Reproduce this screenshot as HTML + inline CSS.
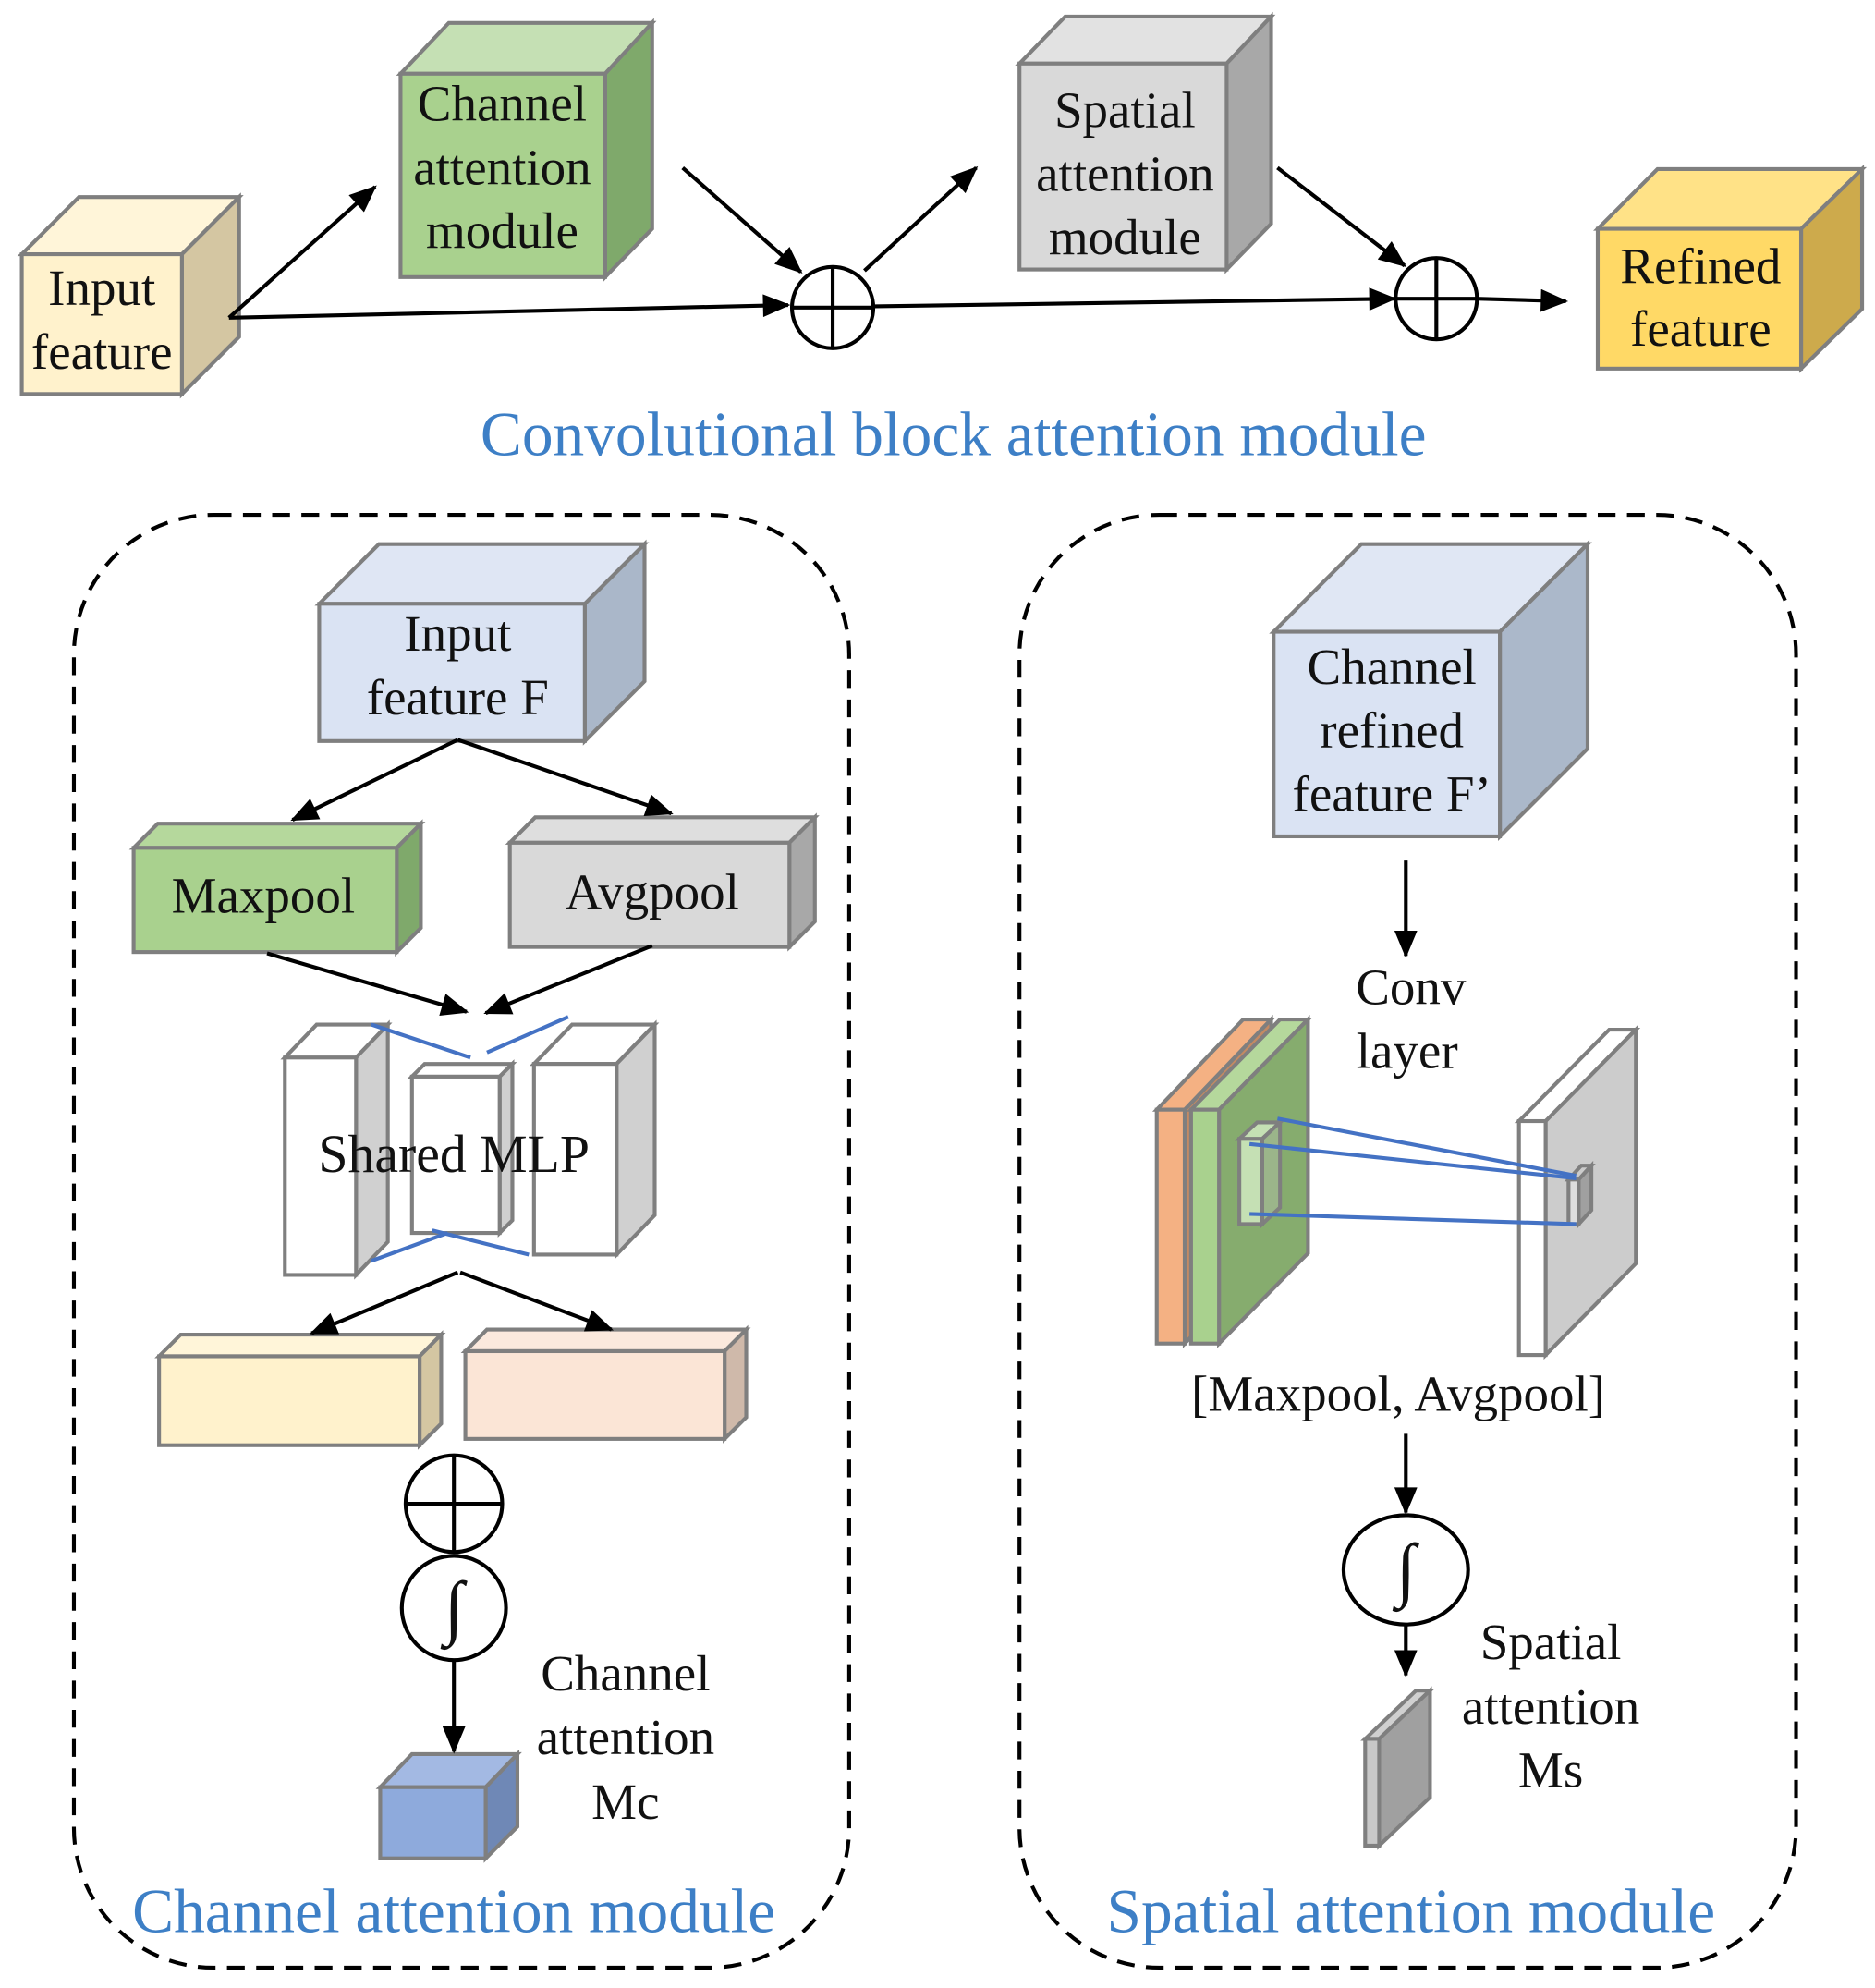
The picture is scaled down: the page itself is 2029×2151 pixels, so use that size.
<!DOCTYPE html>
<html><head><meta charset="utf-8"><style>
html,body{margin:0;padding:0;background:#fff;}
svg{display:block;}
text{font-family:"Liberation Serif",serif;fill:#111;}
.b{fill:#3d7fc6;}
</style></head><body>
<svg width="2029" height="2151" viewBox="0 0 1475 1564" xmlns="http://www.w3.org/2000/svg">
<defs>
<marker id="a" viewBox="0 0 12 10" refX="11" refY="5" markerWidth="22" markerHeight="18" orient="auto" markerUnits="userSpaceOnUse"><path d="M0,0 L12,5 L0,10 z" fill="#000"/></marker>
</defs>
<g stroke="#7f7f7f" stroke-width="3" stroke-linejoin="miter">
<polygon points="17,200 62,155 188,155 143,200" fill="#fff5d9"/>
<polygon points="143,200 188,155 188,265 143,310" fill="#d4c6a2"/>
<rect x="17" y="200" width="126" height="110" fill="#fff2cc"/>
<polygon points="315,58 353,18 513,18 476,58" fill="#c5e0b4"/>
<polygon points="476,58 513,18 513,180 476,218" fill="#7fa96b"/>
<rect x="315" y="58" width="161" height="160" fill="#a9d18e"/>
<polygon points="802,50 838,13 1000,13 965,50" fill="#e2e2e2"/>
<polygon points="965,50 1000,13 1000,176 965,212" fill="#a8a8a8"/>
<rect x="802" y="50" width="163" height="162" fill="#d9d9d9"/>
<polygon points="1257,180 1304,133 1465,133 1417,180" fill="#ffe287"/>
<polygon points="1417,180 1465,133 1465,243 1417,290" fill="#cdaa4c"/>
<rect x="1257" y="180" width="160" height="110" fill="#ffd966"/>
</g>
<g font-size="40" text-anchor="middle">
<text x="80" y="240">Input</text><text x="80" y="290">feature</text>
<text x="395" y="95">Channel</text><text x="395" y="145">attention</text><text x="395" y="195">module</text>
<text x="885" y="100">Spatial</text><text x="885" y="150">attention</text><text x="885" y="200">module</text>
<text x="1338" y="223">Refined</text><text x="1338" y="272">feature</text>
</g>
<g stroke="#000" stroke-width="3" fill="none">
<line x1="180" y1="250" x2="295" y2="147" marker-end="url(#a)"/>
<line x1="180" y1="250" x2="620" y2="240" marker-end="url(#a)"/>
<line x1="537" y1="132" x2="630" y2="214" marker-end="url(#a)"/>
<line x1="680" y1="213" x2="768" y2="132" marker-end="url(#a)"/>
<line x1="688" y1="241" x2="1097" y2="235" marker-end="url(#a)"/>
<line x1="1005" y1="132" x2="1105" y2="209" marker-end="url(#a)"/>
<line x1="1162" y1="235" x2="1232" y2="237" marker-end="url(#a)"/>
<circle cx="655" cy="242" r="32" fill="#fff"/>
<line x1="623" y1="242" x2="687" y2="242"/><line x1="655" y1="210" x2="655" y2="274"/>
<circle cx="1130" cy="235" r="32" fill="#fff"/>
<line x1="1098" y1="235" x2="1162" y2="235"/><line x1="1130" y1="203" x2="1130" y2="267"/>
</g>
<text class="b" x="750" y="358" font-size="49" text-anchor="middle">Convolutional block attention module</text>

<g fill="none" stroke="#000" stroke-width="3" stroke-dasharray="14,9">
<rect x="58" y="405" width="610" height="1143" rx="110" ry="110"/>
<rect x="802" y="405" width="611" height="1143" rx="110" ry="110"/>
</g>

<g stroke="#7f7f7f" stroke-width="3">
<polygon points="251,475 298,428 507,428 460,475" fill="#dfe6f4"/>
<polygon points="460,475 507,428 507,536 460,583" fill="#aab7c9"/>
<rect x="251" y="475" width="209" height="108" fill="#dae3f3"/>
<polygon points="105,667 124,648 331,648 312,667" fill="#b5d89c"/>
<polygon points="312,667 331,648 331,730 312,749" fill="#7fa96b"/>
<rect x="105" y="667" width="207" height="82" fill="#a9d18e"/>
<polygon points="401,663 421,643 641,643 621,663" fill="#dedede"/>
<polygon points="621,663 641,643 641,725 621,745" fill="#a8a8a8"/>
<rect x="401" y="663" width="220" height="82" fill="#d9d9d9"/>
<polygon points="224,832 249,806 305,806 280,832" fill="#fff"/>
<polygon points="280,832 305,806 305,977 280,1003" fill="#d0d0d0"/>
<rect x="224" y="832" width="56" height="171" fill="#fff"/>
<polygon points="324,847 334,837 403,837 393,847" fill="#fff"/>
<polygon points="393,847 403,837 403,960 393,970" fill="#d0d0d0"/>
<rect x="324" y="847" width="69" height="123" fill="#fff"/>
<polygon points="420,837 450,806 515,806 485,837" fill="#fff"/>
<polygon points="485,837 515,806 515,956 485,987" fill="#d0d0d0"/>
<rect x="420" y="837" width="65" height="150" fill="#fff"/>
<polygon points="125,1067 142,1050 347,1050 330,1067" fill="#fff5d9"/>
<polygon points="330,1067 347,1050 347,1120 330,1137" fill="#d4c6a2"/>
<rect x="125" y="1067" width="205" height="70" fill="#fff2cc"/>
<polygon points="366,1063 383,1046 587,1046 570,1063" fill="#fbe9dd"/>
<polygon points="570,1063 587,1046 587,1115 570,1132" fill="#cfb9aa"/>
<rect x="366" y="1063" width="204" height="69" fill="#fbe5d6"/>
<polygon points="299,1406 324,1380 407,1380 382,1406" fill="#a3b9e3"/>
<polygon points="382,1406 407,1380 407,1437 382,1462" fill="#6f88b6"/>
<rect x="299" y="1406" width="83" height="56" fill="#8eaadc"/>
</g>
<g stroke="#4472c4" stroke-width="3">
<line x1="292" y1="806" x2="370" y2="832"/>
<line x1="383" y1="828" x2="447" y2="800"/>
<line x1="292" y1="992" x2="352" y2="970"/>
<line x1="340" y1="968" x2="416" y2="987"/>
</g>
<g font-size="40" text-anchor="middle">
<text x="360" y="512">Input</text><text x="360" y="562">feature F</text>
<text x="207" y="718">Maxpool</text>
<text x="513" y="715">Avgpool</text>
<text x="357" y="922" font-size="42">Shared MLP</text>
<text x="492" y="1330">Channel</text><text x="492" y="1380">attention</text><text x="492" y="1431">Mc</text>
</g>
<g stroke="#000" stroke-width="3" fill="none">
<line x1="360" y1="582" x2="230" y2="645" marker-end="url(#a)"/>
<line x1="360" y1="582" x2="528" y2="640" marker-end="url(#a)"/>
<line x1="210" y1="750" x2="367" y2="796" marker-end="url(#a)"/>
<line x1="513" y1="744" x2="382" y2="797" marker-end="url(#a)"/>
<line x1="360" y1="1001" x2="245" y2="1049" marker-end="url(#a)"/>
<line x1="362" y1="1001" x2="481" y2="1046" marker-end="url(#a)"/>
<circle cx="357" cy="1183" r="38" fill="#fff"/>
<line x1="319" y1="1183" x2="395" y2="1183"/><line x1="357" y1="1145" x2="357" y2="1221"/>
<circle cx="357" cy="1265" r="41" fill="#fff"/>
<line x1="357" y1="1306" x2="357" y2="1378" marker-end="url(#a)"/>
</g>
<text x="357" y="1283" font-size="56" text-anchor="middle">∫</text>
<text class="b" x="357" y="1520" font-size="49" text-anchor="middle">Channel attention module</text>

<g stroke="#7f7f7f" stroke-width="3">
<polygon points="1002,497 1071,428 1249,428 1180,497" fill="#e0e7f4"/>
<polygon points="1180,497 1249,428 1249,589 1180,658" fill="#abb8ca"/>
<rect x="1002" y="497" width="178" height="161" fill="#dae3f3"/>
<polygon points="910,873 978,802 1000,802 932,873" fill="#f4b183"/>
<polygon points="932,873 1000,802 1000,986 932,1057" fill="#c48a62"/>
<rect x="910" y="873" width="22" height="184" fill="#f4b183"/>
<polygon points="937,873 1007,802 1029,802 959,873" fill="#b5d89c"/>
<polygon points="959,873 1029,802 1029,986 959,1057" fill="#86ac6e"/>
<rect x="937" y="873" width="22" height="184" fill="#a9d18e"/>
<polygon points="975,896 989,883 1007,883 993,896" fill="#c5e0b4"/>
<polygon points="993,896 1007,883 1007,950 993,963" fill="#9bb58a"/>
<rect x="975" y="896" width="18" height="67" fill="#c5e0b4"/>
<polygon points="1195,882 1266,810 1287,810 1216,882" fill="#fff"/>
<polygon points="1216,882 1287,810 1287,994 1216,1066" fill="#cccccc"/>
<rect x="1195" y="882" width="21" height="184" fill="#fff"/>
<polygon points="1234,928 1244,917 1252,917 1242,928" fill="#ccc"/>
<polygon points="1242,928 1252,917 1252,952 1242,963" fill="#a0a0a0"/>
<rect x="1234" y="928" width="8" height="35" fill="#ddd"/>
<polygon points="1074,1368 1114,1330 1125,1330 1085,1368" fill="#d0d0d0"/>
<polygon points="1085,1368 1125,1330 1125,1414 1085,1452" fill="#a0a0a0"/>
<rect x="1074" y="1368" width="11" height="84" fill="#c8c8c8"/>
</g>
<g stroke="#4472c4" stroke-width="3">
<line x1="1005" y1="880" x2="1240" y2="925"/>
<line x1="983" y1="900" x2="1240" y2="927"/>
<line x1="983" y1="955" x2="1240" y2="963"/>
</g>
<g font-size="40" text-anchor="middle">
<text x="1095" y="538">Channel</text><text x="1095" y="588">refined</text><text x="1095" y="638">feature F’</text>
<text x="1110" y="790">Conv</text><text x="1107" y="840">layer</text>
<text x="1100" y="1110">[Maxpool, Avgpool]</text>
<text x="1220" y="1305">Spatial</text><text x="1220" y="1356">attention</text><text x="1220" y="1406">Ms</text>
</g>
<g stroke="#000" stroke-width="3" fill="none">
<line x1="1106" y1="677" x2="1106" y2="752" marker-end="url(#a)"/>
<line x1="1106" y1="1128" x2="1106" y2="1190" marker-end="url(#a)"/>
<ellipse cx="1106" cy="1235" rx="49" ry="43" fill="#fff"/>
<line x1="1106" y1="1278" x2="1106" y2="1318" marker-end="url(#a)"/>
</g>
<text x="1106" y="1253" font-size="56" text-anchor="middle">∫</text>
<text class="b" x="1110" y="1520" font-size="49" text-anchor="middle">Spatial attention module</text>
</svg>
</body></html>
